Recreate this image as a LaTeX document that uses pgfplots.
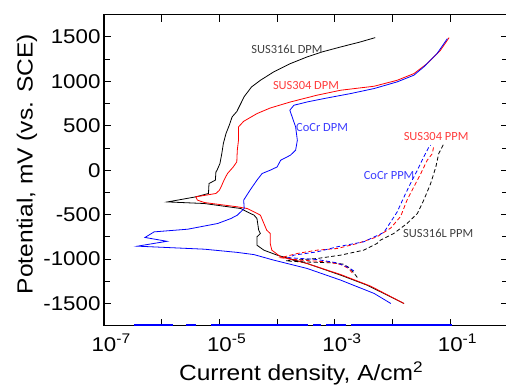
\documentclass[border=0pt]{standalone}
\usepackage{fontspec}
\setmainfont{Liberation Sans}[FakeStretch=1.12]
\newfontfamily\annfont{Carlito}
\usepackage{pgfplots}
\pgfplotsset{compat=1.18}
\definecolor{anngray}{RGB}{64,64,64}
\definecolor{annred}{RGB}{255,60,60}
\definecolor{annblue}{RGB}{60,60,255}
\begin{document}
\begin{tikzpicture}
\begin{axis}[
  axis on top=false,
  at={(104bp,61.3bp)}, anchor=south west,
  scale only axis, width=404bp, height=311bp,
  xmode=log, xmin=1e-7, xmax=1, ymin=-1750, ymax=1750,
  xtick={1e-7,1e-6,1e-5,1e-4,1e-3,1e-2,1e-1,1},
  xticklabels={10\rlap{\textsuperscript{-7}},,10\rlap{\textsuperscript{-5}},,10\rlap{\textsuperscript{-3}},,10\rlap{\textsuperscript{-1}},},
  xminorticks=false,
  ytick={-1500,-1000,-500,0,500,1000,1500},
  yticklabels={-1500,-1000,-500,0,500,1000,1500},
  minor y tick num=1,
  tick align=inside, major tick length=7bp, minor tick length=6bp,
  axis line style={line width=1.2pt},
  tick style={line width=0.9pt, black},
  tick label style={font=\fontsize{20}{24}\selectfont},
  xticklabel style={yshift=-5bp},
  label style={font=\fontsize{22}{26}\selectfont},
  xlabel={Current density, A/cm\textsuperscript{2}},
  ylabel={Potential, mV (vs. SCE)},
  xlabel style={at={(axis description cs:0.488,-0.176)}, anchor=base},
  ylabel style={at={(axis description cs:-0.1766,0.52)}, anchor=base},
  clip=false,
]
% stray blue trace along the bottom
\addplot[color=blue, line width=1.5pt] coordinates {(3.3e-7,-1740) (1.55e-6,-1740)};
\addplot[color=blue, line width=1.5pt] coordinates {(2.63e-6,-1740) (3.9e-6,-1740)};
\addplot[color=blue, line width=1.5pt] coordinates {(7.1e-6,-1740) (3.4e-4,-1740)};
\addplot[color=blue, line width=1.5pt] coordinates {(4.2e-4,-1740) (5.75e-4,-1740)};
\addplot[color=blue, line width=1.5pt] coordinates {(7.1e-4,-1740) (1.58e-3,-1740)};
\addplot[color=blue, line width=1.5pt] coordinates {(1.9e-3,-1740) (0.105,-1740)};
% SUS316L DPM
\addplot[black, line width=0.8pt] coordinates {
(1.58e-2,-1500) (3.63e-3,-1294) (1.26e-3,-1181) (3.31e-4,-1050) (1.0e-4,-956) (5.89e-5,-900)
(4.47e-5,-844) (4.47e-5,-750) (5.13e-5,-712) (4.79e-5,-675) (4.47e-5,-544) (3.98e-5,-506)
(3.02e-5,-469) (2.34e-5,-431) (5.5e-6,-375) (1.26e-6,-357) (3.89e-6,-300) (6.46e-6,-262)
(6.6e-6,-150) (8.5e-6,-112) (8.7e-6,-19) (9.1e-6,0) (1.02e-5,75) (1.1e-5,187) (1.17e-5,300)
(1.3e-5,413) (1.5e-5,515) (1.66e-5,600) (2.0e-5,660) (2.7e-5,830) (3.6e-5,937) (5.13e-5,1012)
(8.7e-5,1106) (1.7e-4,1200) (3.31e-4,1275) (6.0e-4,1331) (1.26e-3,1387) (2.75e-3,1443) (5.0e-3,1492)};
% SUS304 DPM
\addplot[red, line width=0.8pt] coordinates {
(1.58e-2,-1500) (4.17e-3,-1305) (1.26e-3,-1174) (3.31e-4,-1050) (1.15e-4,-975) (8.1e-5,-900)
(7.59e-5,-825) (7.59e-5,-712) (6.6e-5,-675) (5.13e-5,-506) (3.98e-5,-469) (3.02e-5,-431)
(2.04e-5,-412) (5.5e-6,-364) (4.17e-6,-337) (3.89e-6,-300) (8.7e-6,-262) (1.0e-5,-225)
(1.07e-5,-187) (1.2e-5,-112) (1.38e-5,-37) (1.55e-5,0) (1.74e-5,37) (2.0e-5,94) (2.04e-5,225)
(2.14e-5,337) (2.14e-5,487) (2.63e-5,550) (4.47e-5,637) (7.59e-5,700) (1.7e-4,768)
(4.9e-4,844) (1.26e-3,900) (4.79e-3,945) (1.2e-2,1012) (2.34e-2,1087) (3.98e-2,1200)
(6.76e-2,1350) (9.55e-2,1492)};
% CoCr DPM
\addplot[blue, line width=0.8pt] coordinates {
(9.33e-3,-1500) (4.79e-3,-1387) (1.26e-3,-1237) (3.31e-4,-1106) (8.7e-5,-1012) (3.98e-5,-950)
(2.04e-5,-925) (5.5e-6,-889) (3.8e-7,-855) (1.23e-6,-800) (5.13e-7,-757) (7.4e-7,-694)
(2.82e-6,-664) (9.3e-6,-600) (1.58e-5,-544) (2.04e-5,-506) (2.69e-5,-431) (2.63e-5,-337)
(3.39e-5,-225) (4.47e-5,-112) (5.5e-5,-37) (7.59e-5,0) (1.0e-4,37) (1.15e-4,112) (1.7e-4,169)
(2.09e-4,225) (2.24e-4,337) (2.09e-4,487) (1.82e-4,600) (1.66e-4,675) (1.95e-4,731)
(3.31e-4,768) (6.46e-4,806) (1.86e-3,862) (4.79e-3,919) (1.2e-2,994) (2.34e-2,1069)
(3.47e-2,1162) (5.89e-2,1312) (8.91e-2,1481)};
% SUS316L PPM
\addplot[black, line width=0.8pt, dash pattern=on 4pt off 2.5pt] coordinates {
(2.45e-3,-1207) (1.86e-3,-1106) (1.41e-3,-1058) (9.55e-4,-1043) (2.51e-4,-1031) (1.41e-4,-1020)
(4.9e-4,-994) (1.26e-3,-956) (3.16e-3,-900) (5.37e-3,-825) (6.17e-3,-787) (1.05e-2,-712)
(1.78e-2,-600) (2.69e-2,-487) (3.47e-2,-337) (4.57e-2,-150) (5.62e-2,37) (6.31e-2,187) (7.76e-2,300)};
% SUS304 PPM
\addplot[red, line width=0.8pt, dash pattern=on 4pt off 2.5pt] coordinates {
(2.0e-3,-1155) (1.74e-3,-1106) (1.26e-3,-1061) (7.41e-4,-1031) (2.51e-4,-1012) (1.15e-4,-985)
(2.24e-4,-937) (4.9e-4,-900) (1.1e-3,-881) (2.45e-3,-825) (5.37e-3,-750) (9.33e-3,-650)
(1.38e-2,-520) (1.78e-2,-337) (2.34e-2,-187) (3.09e-2,-37) (3.98e-2,112) (4.9e-2,187) (5.13e-2,262)};
% CoCr PPM
\addplot[blue, line width=0.8pt, dash pattern=on 4pt off 2.5pt] coordinates {
(2.14e-3,-1133) (1.62e-3,-1087) (1.1e-3,-1043) (4.9e-4,-1005) (1.58e-4,-985) (1.95e-4,-956)
(4.9e-4,-919) (1.1e-3,-862) (3.16e-3,-806) (7.08e-3,-700) (9.33e-3,-580) (1.2e-2,-470)
(1.58e-2,-300) (2.04e-2,-150) (2.69e-2,0) (3.47e-2,150) (4.27e-2,262) (4.57e-2,281)};
\begin{scope}[every node/.style={font=\annfont\fontsize{12.5}{14}\selectfont, inner sep=0pt}]
\node[text=anngray] at (axis cs:1.48e-4,1364) {SUS316L DPM};
\node[text=annred] at (axis cs:3.16e-4,948) {SUS304 DPM};
\node[text=annblue] at (axis cs:6.0e-4,475) {CoCr DPM};
\node[text=annred] at (axis cs:5.68e-2,374) {SUS304 PPM};
\node[text=annblue] at (axis cs:8.7e-3,-65) {CoCr PPM};
\node[text=anngray] at (axis cs:6.17e-2,-707) {SUS316L PPM};
\end{scope}
\end{axis}
\pgfresetboundingbox
\path (0,0) rectangle (506bp,387bp);
\end{tikzpicture}
\end{document}
